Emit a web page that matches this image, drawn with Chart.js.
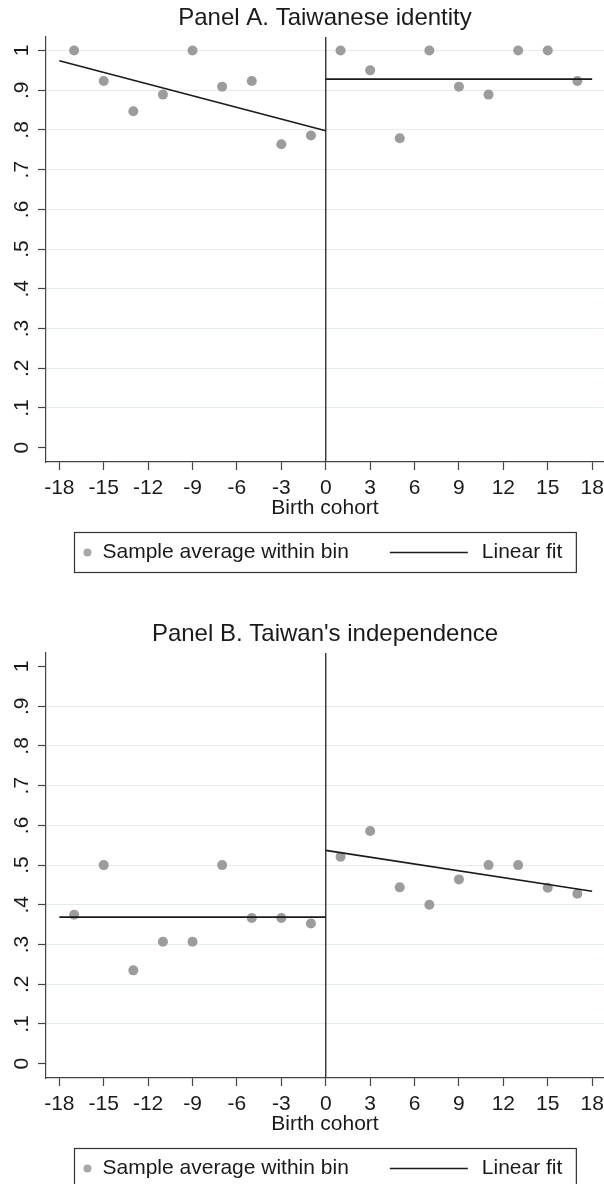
<!DOCTYPE html>
<html>
<head>
<meta charset="utf-8">
<style>
html, body { margin:0; padding:0; background:#fff; }
body { width:604px; height:1184px; overflow:hidden; position:relative; }
.panel { position:absolute; left:0; width:604px; height:616px; }
</style>
</head>
<body>
<div class="panel" style="top:0"><canvas id="chartA" width="604" height="616"></canvas></div>
<div class="panel" style="top:616px"><canvas id="chartB" width="604" height="616"></canvas></div>

<script src="https://cdn.jsdelivr.net/npm/chart.js"></script>
<script>
// bin midpoints, birth cohort relative to the cutoff
var cohorts = [-17, -15, -13, -11, -9, -7, -5, -3, -1, 1, 3, 5, 7, 9, 11, 13, 15, 17];

// sample average within bin
var identityAvg = [1.0, 0.923, 0.847, 0.889, 1.0, 0.909, 0.923, 0.764, 0.786,
                   1.0, 0.95, 0.779, 1.0, 0.909, 0.889, 1.0, 1.0, 0.923];
var independenceAvg = [0.375, 0.5, 0.235, 0.307, 0.307, 0.5, 0.367, 0.367, 0.353,
                       0.521, 0.586, 0.444, 0.400, 0.464, 0.5, 0.5, 0.443, 0.428];

// linear fit end points on each side of the cutoff
var fitLeftX = [-18, 0];
var fitRightX = [0, 18];
var identityFitLeft = [0.974, 0.798];
var identityFitRight = [0.928, 0.928];
var independenceFitLeft = [0.369, 0.369];
var independenceFitRight = [0.537, 0.434];

var cutoff = 0;
var xTicks = [-18, -15, -12, -9, -6, -3, 0, 3, 6, 9, 12, 15, 18];
var yTicks = [0, 0.1, 0.2, 0.3, 0.4, 0.5, 0.6, 0.7, 0.8, 0.9, 1];
var yTickLabels = ["0", ".1", ".2", ".3", ".4", ".5", ".6", ".7", ".8", ".9", "1"];
</script>

<script>
var FONT = '"Liberation Sans", Arial, sans-serif';
var AXIS = '#444444';
var DOT = '#9c9c9c';
var FIT = '#1a1a1a';

function pts(xs, ys){
	var out = [];
	for(var i = 0; i < xs.length; i++){
		out.push({x: xs[i], y: ys[i]});
	}
	return out;
}

// put the title over the plot region, like Stata does
var centerTitle = {
	id: 'centerTitle',
	afterLayout: function(chart){
		if(chart.titleBlock){
			chart.titleBlock.left = chart.chartArea.left;
			chart.titleBlock.right = chart.chartArea.right;
		}
	}
};

// vertical line at the cutoff
var cutoffLine = {
	id: 'cutoffLine',
	beforeDatasetsDraw: function(chart){
		var ctx = chart.ctx, a = chart.chartArea;
		var x = chart.scales.x.getPixelForValue(cutoff);
		ctx.save();
		ctx.strokeStyle = '#333333';
		ctx.lineWidth = 1.4;
		ctx.beginPath();
		ctx.moveTo(x, a.top);
		ctx.lineTo(x, a.bottom);
		ctx.stroke();
		ctx.restore();
	}
};

// boxed legend below the axis title
var boxLegend = {
	id: 'boxLegend',
	afterDraw: function(chart){
		var ctx = chart.ctx, a = chart.chartArea;
		var ds = chart.data.datasets;
		var dotLabel = ds[2].label, lineLabel = ds[0].label;
		ctx.save();
		ctx.font = '21px ' + FONT;
		var w1 = ctx.measureText(dotLabel).width;
		var w2 = ctx.measureText(lineLabel).width;
		var boxW = 13 + 15 + w1 + 41 + 78 + 14 + w2 + 14;
		var left = Math.round((a.left + a.right) / 2 - boxW / 2) + 0.5;
		var top = a.bottom + 70.5, h = 40, cy = top + h / 2;
		ctx.strokeStyle = '#333333';
		ctx.lineWidth = 1.2;
		ctx.strokeRect(left, top, boxW, h);
		var x = left + 13;
		ctx.fillStyle = '#a8a8a8';
		ctx.beginPath();
		ctx.arc(x, cy, 4, 0, Math.PI * 2);
		ctx.fill();
		x += 15;
		ctx.fillStyle = '#1a1a1a';
		ctx.textBaseline = 'middle';
		ctx.textAlign = 'left';
		ctx.fillText(dotLabel, x, cy);
		x += w1 + 41;
		ctx.strokeStyle = FIT;
		ctx.lineWidth = 1.6;
		ctx.beginPath();
		ctx.moveTo(x, cy);
		ctx.lineTo(x + 78, cy);
		ctx.stroke();
		x += 78 + 14;
		ctx.fillText(lineLabel, x, cy);
		ctx.restore();
	}
};

function makePanel(id, title, avg, fitL, fitR, gridAtTop){
	var ctx = document.getElementById(id).getContext('2d');
	return new Chart(ctx, {
		type: 'scatter',
		data: {
			datasets: [{
				label: 'Linear fit',
				data: pts(fitLeftX, fitL),
				showLine: true,
				borderColor: FIT,
				borderWidth: 1.6,
				pointRadius: 0
			}, {
				label: 'Linear fit (right)',
				data: pts(fitRightX, fitR),
				showLine: true,
				borderColor: FIT,
				borderWidth: 1.6,
				pointRadius: 0
			}, {
				label: 'Sample average within bin',
				data: pts(cohorts, avg),
				backgroundColor: DOT,
				borderColor: DOT,
				borderWidth: 0,
				pointRadius: 5
			}]
		},
		options: {
			animation: false,
			responsive: false,
			devicePixelRatio: 1,
			events: [],
			layout: { autoPadding: false, padding: { left: 0, right: 0, top: 0, bottom: 95 } },
			plugins: {
				legend: { display: false },
				tooltip: { enabled: false },
				title: {
					display: true,
					text: title,
					color: '#1a1a1a',
					font: { family: FONT, size: 24, weight: 'normal', lineHeight: 1.2 },
					padding: { top: 4.3, bottom: 3.9 }
				}
			},
			scales: {
				x: {
					type: 'linear',
					min: -18.9,
					max: 18.8,
					afterBuildTicks: function(scale){
						scale.ticks = xTicks.map(function(v){ return {value: v}; });
					},
					afterFit: function(scale){
						scale.height = 59;
						scale.paddingLeft = 0;
						scale.paddingRight = 0;
					},
					ticks: {
						color: '#1a1a1a',
						font: { family: FONT, size: 21, lineHeight: 1.7 },
						padding: 0,
						maxRotation: 0,
						autoSkip: false
					},
					grid: {
						drawOnChartArea: false,
						drawTicks: true,
						tickLength: 8,
						tickColor: AXIS,
						tickWidth: 1.2
					},
					border: { display: true, color: AXIS, width: 1.2 },
					title: {
						display: true,
						text: 'Birth cohort',
						color: '#1a1a1a',
						font: { family: FONT, size: 21, lineHeight: 1.2 },
						padding: { top: 0, bottom: 0 }
					}
				},
				y: {
					type: 'linear',
					min: -0.036,
					max: 1.034,
					afterBuildTicks: function(scale){
						scale.ticks = yTicks.map(function(v){ return {value: v}; });
					},
					afterFit: function(scale){
						scale.width = 46;
						scale.paddingTop = 0;
						scale.paddingBottom = 0;
					},
					ticks: {
						color: '#1a1a1a',
						font: { family: FONT, size: 21 },
						minRotation: 90,
						maxRotation: 90,
						crossAlign: 'center',
						padding: 7,
						autoSkip: false,
						callback: function(value, index){ return yTickLabels[index]; }
					},
					grid: {
						drawOnChartArea: true,
						drawTicks: true,
						tickLength: 8,
						tickColor: AXIS,
						tickWidth: 1.2,
						lineWidth: 1,
						color: function(c){
							var v = c.tick ? c.tick.value : null;
							if(v === 0 || (v === 1 && !gridAtTop)) return 'rgba(0,0,0,0)';
							return '#e3edf0';
						}
					},
					border: { display: true, color: AXIS, width: 1.2 }
				}
			}
		},
		plugins: [centerTitle, cutoffLine, boxLegend]
	});
}

makePanel('chartA', 'Panel A. Taiwanese identity', identityAvg, identityFitLeft, identityFitRight, true);
makePanel('chartB', "Panel B. Taiwan's independence", independenceAvg, independenceFitLeft, independenceFitRight, false);
</script>
</body>
</html>
